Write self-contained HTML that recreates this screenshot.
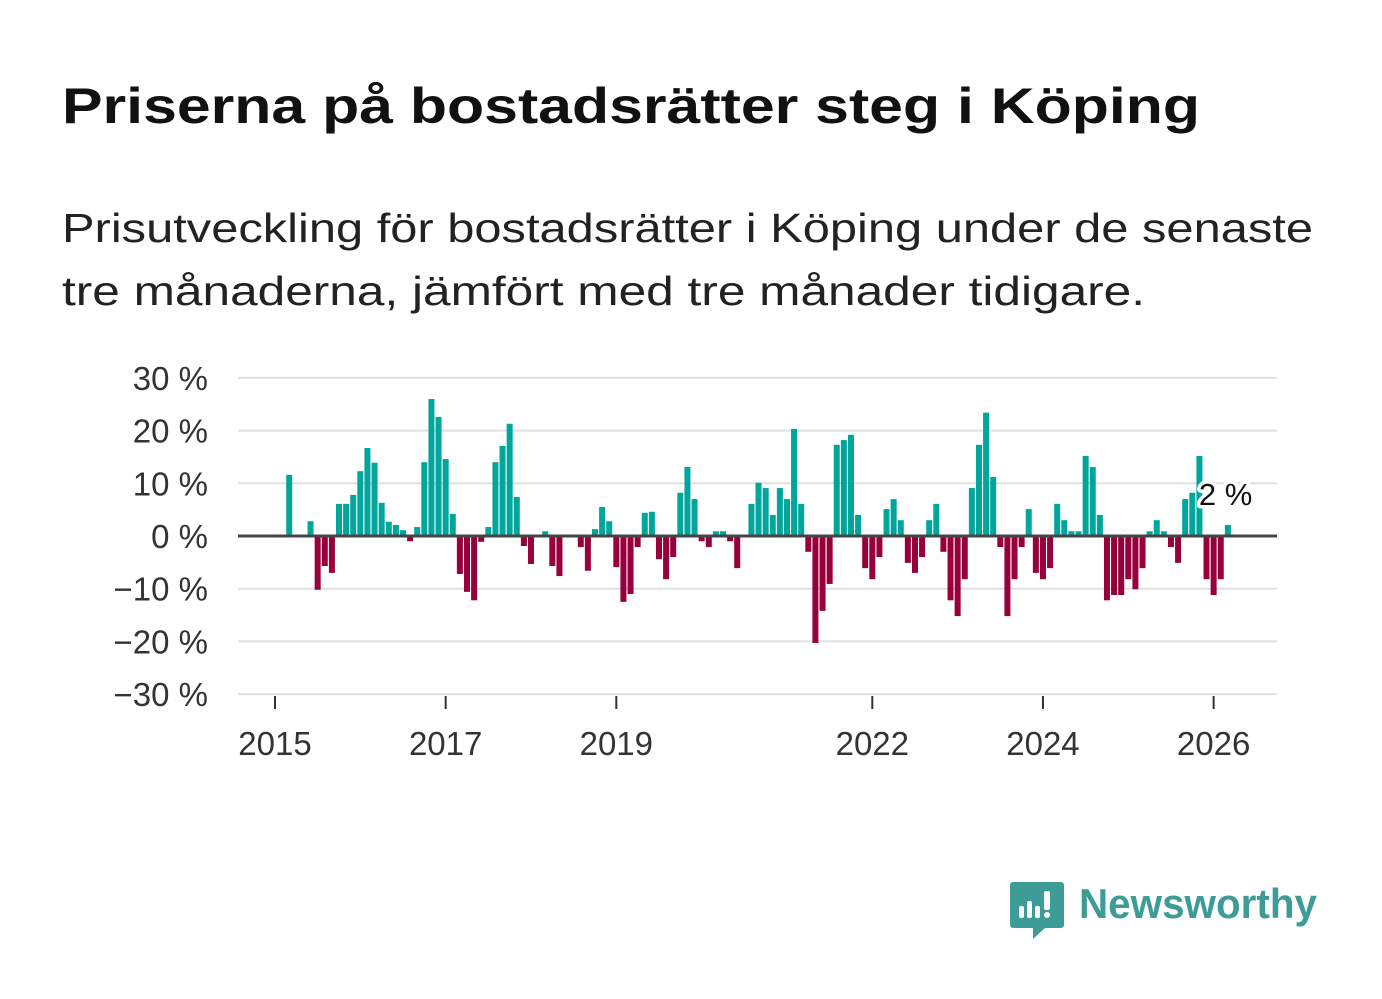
<!DOCTYPE html>
<html><head><meta charset="utf-8"><style>
body{margin:0;background:#fff;}
svg{display:block;font-family:"Liberation Sans","DejaVu Sans",sans-serif;}
</style></head><body>
<svg id="chart" width="1382" height="999" viewBox="0 0 1382 999">
<rect width="1382" height="999" fill="#fff"/>
<text x="62" y="123" font-size="50" font-weight="bold" fill="#111" textLength="1138" lengthAdjust="spacingAndGlyphs">Priserna på bostadsrätter steg i Köping</text>
<text x="62" y="242" font-size="41" fill="#222" textLength="1251" lengthAdjust="spacingAndGlyphs">Prisutveckling för bostadsrätter i Köping under de senaste</text>
<text x="62" y="305" font-size="41" fill="#222" textLength="1083" lengthAdjust="spacingAndGlyphs">tre månaderna, jämfört med tre månader tidigare.</text>
<g id="grid"></g><g id="bars"></g><g id="axes"></g>
<g>
<path d="M1013 882 h48 a3 3 0 0 1 3 3 v40 a3 3 0 0 1 -3 3 h-16 l-12 11 v-11 h-20 a3 3 0 0 1 -3 -3 v-40 a3 3 0 0 1 3 -3z" fill="#3d9d96"/>
<rect x="1019" y="906" width="5" height="12" rx="2" fill="#fff"/>
<rect x="1027" y="901" width="5" height="17" rx="2" fill="#fff"/>
<rect x="1035" y="906" width="5" height="12" rx="2" fill="#fff"/>
<rect x="1044" y="891" width="6" height="19" rx="2" fill="#fff"/>
<circle cx="1047" cy="915" r="3" fill="#fff"/>
<text x="1079" y="918" font-size="42" font-weight="bold" fill="#3d9d96" textLength="238" lengthAdjust="spacingAndGlyphs">Newsworthy</text>
</g>
</svg>
<script>
const yTicks = [30, 20, 10, 0, -10, -20, -30];
const xTickYears = [2015, 2017, 2019, 2022, 2024, 2026];
const startYear = 2015;
const values = [0,0,11.6,0,0,2.8,-10.2,-5.7,-7.0,6.1,6.1,7.8,12.3,16.7,13.9,6.3,2.7,2.1,1.1,-1.0,1.7,14.0,26.0,22.6,14.6,4.2,-7.2,-10.6,-12.2,-1.1,1.7,14.0,17.1,21.3,7.4,-1.9,-5.3,0,0.9,-5.7,-7.6,0,0,-2.1,-6.6,1.3,5.5,2.8,-5.9,-12.5,-11.0,-2.1,4.4,4.6,-4.4,-8.2,-4.0,8.2,13.1,7.0,-1.0,-2.1,0.9,0.9,-1.0,-6.1,0,6.1,10.1,9.1,4.0,9.1,7.0,20.3,6.1,-3.0,-20.3,-14.2,-9.1,17.3,18.2,19.2,4.0,-6.1,-8.2,-4.0,5.1,7.0,3.0,-5.1,-7.0,-4.0,3.0,6.1,-3.0,-12.2,-15.2,-8.2,9.1,17.3,23.4,11.2,-2.1,-15.2,-8.2,-2.1,5.1,-7.0,-8.2,-6.1,6.1,3.0,0.9,0.9,15.2,13.1,4.0,-12.2,-11.2,-11.2,-8.2,-10.1,-6.1,0.9,3.0,0.9,-2.1,-5.1,7.0,8.2,15.2,-8.2,-11.2,-8.2,2.1];
const lastLabel = "2 %";

const NS = "http://www.w3.org/2000/svg";
function xScale(t){ return 275 + (t - startYear) * 85.33; }
function yScale(v){ return 536 - v * 5.27; }
function mk(tag, attrs, parent){ const e=document.createElementNS(NS,tag); for(const k in attrs) e.setAttribute(k,attrs[k]); parent.appendChild(e); return e; }
const grid=document.getElementById('grid'), bars=document.getElementById('bars'), axes=document.getElementById('axes');

yTicks.forEach(v=>{
  if(v!==0){
    const l=mk('line',{x1:238,x2:1277,y1:yScale(v),y2:yScale(v),stroke:'#e0e0e0','stroke-width':2},grid);
    
    
  }
  const t=mk('text',{x:208,y:yScale(v)+12,'font-size':33,'text-anchor':'end',fill:'#333'},axes);
  t.textContent=(v<0?'\u2212'+Math.abs(v):v)+' %';
  
  
});

values.forEach((v,i)=>{
  if(v===0) return;
  const cx=xScale(startYear+i/12);
  const y0=yScale(0), y1=yScale(v);
  const r=mk('rect',{x:cx-3,y:Math.min(y0,y1),width:6,height:Math.abs(y1-y0),fill:v>0?'#00a59b':'#97003a'},bars);
  
  
});

const zl=mk('line',{x1:238,x2:1277,y1:yScale(0),y2:yScale(0),stroke:'#444','stroke-width':3},axes);



xTickYears.forEach(yr=>{
  const x=xScale(yr);
  const tk=mk('line',{x1:x,x2:x,y1:696,y2:709,stroke:'#333','stroke-width':2},axes);
  
  
  const t=mk('text',{x:x,y:755,'font-size':33,'text-anchor':'middle',fill:'#333'},axes);
  t.textContent=yr;
  
  
});

const lx=xScale(startYear+(values.length-1)/12)-29;
const lbl=mk('text',{x:lx,y:505,'font-size':31,fill:'#111',stroke:'#fff','stroke-width':7,'paint-order':'stroke','stroke-linejoin':'round'},axes);
lbl.textContent=lastLabel;


</script>
</body></html>
